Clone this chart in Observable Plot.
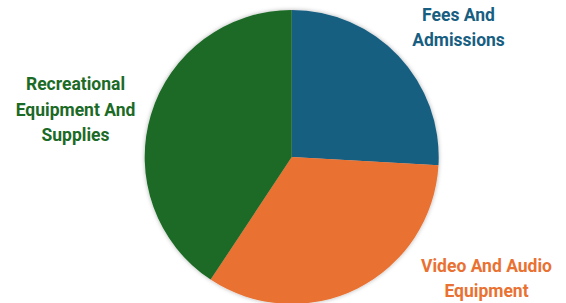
<!DOCTYPE html>
<html>
<head>
<meta charset="utf-8">
<script src="https://cdn.jsdelivr.net/npm/d3@7"></script>
<script src="https://cdn.jsdelivr.net/npm/@observablehq/plot@0.6"></script>
<style>
  html, body { margin: 0; padding: 0; background: #fff; }
</style>
</head>
<body>
<div id="chart"></div>
<script>
const categories = ["Fees And Admissions", "Video And Audio Equipment", "Recreational Equipment And Supplies"];
const shares = [25.9, 33.4, 40.7];
const labelLines = ["Fees And\nAdmissions", "Video And Audio\nEquipment", "Recreational\nEquipment And\nSupplies"];
const colors = ["#175E81", "#E97132", "#1B6A26"];

// layout (pixel placement of the outside labels)
const labelPos = [[458, 25], [486, 276], [75, 107]];

const data = categories.map((c, i) => ({category: c, value: shares[i], label: labelLines[i], lx: labelPos[i][0], ly: labelPos[i][1]}));

const cx = 291.7, cy = 157, R = 147;

function pieMark(index, scales, values, dimensions) {
  const g = d3.create("svg:g");
  const defs = g.append("defs");
  const f = defs.append("filter").attr("id", "sh").attr("x", "-10%").attr("y", "-10%").attr("width", "120%").attr("height", "120%");
  f.append("feDropShadow").attr("dx", 0).attr("dy", 0).attr("stdDeviation", 2).attr("flood-color", "#000").attr("flood-opacity", 0.3);
  const arcs = d3.pie().sort(null).value(d => d.value)(data);
  const arc = d3.arc().innerRadius(0).outerRadius(R);
  const pg = g.append("g").attr("transform", `translate(${cx},${cy})`).attr("filter", "url(#sh)");
  pg.selectAll("path").data(arcs).join("path")
    .attr("d", arc)
    .attr("fill", d => scales.color(d.data.category));
  return g.node();
}

const chart = Plot.plot({
  width: 566,
  height: 303,
  margin: 0,
  x: {type: "identity", axis: null},
  y: {type: "identity", axis: null},
  color: {domain: categories, range: colors},
  style: {background: "#fff", overflow: "visible"},
  marks: [
    pieMark,
    Plot.text(data, {
      x: "lx", y: "ly", text: "label",
      fill: "category",
      fontSize: 17.5, fontWeight: "bold",
      fontFamily: "Roboto, 'Liberation Sans', sans-serif",
      lineHeight: 1.43,
      textAnchor: "middle"
    })
  ]
});
document.getElementById("chart").append(chart);
</script>
</body>
</html>
